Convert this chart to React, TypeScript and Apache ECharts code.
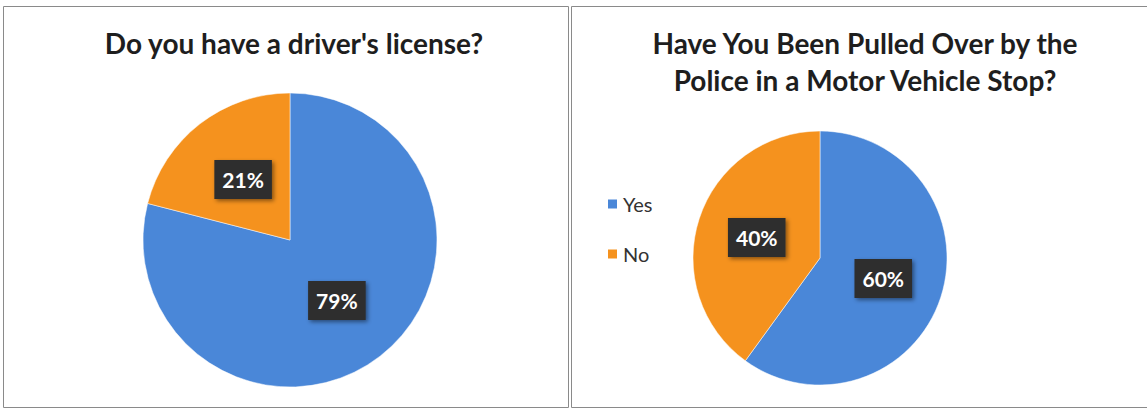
import React, { useEffect, useRef } from "react";
import * as echarts from "echarts";

const categories = ["Yes", "No"];
const licenseValues = [79, 21];
const pulledOverValues = [60, 40];
const titleLeft = "Do you have a driver's license?";
const titleRight = "Have You Been Pulled Over by the\nPolice in a Motor Vehicle Stop?";

const BLUE = "#4a87d8";
const ORANGE = "#f5921e";
const FONT = "Lato, 'Open Sans', sans-serif";

export default function App() {
  const ref = useRef<HTMLDivElement>(null);
  useEffect(() => {
    if (!ref.current) return;
    const chart = echarts.init(ref.current, undefined, { renderer: "svg" });
    const label = {
      show: true,
      position: "inside",
      formatter: "{c}%",
      color: "#fff",
      fontFamily: FONT,
      fontWeight: "bold",
      fontSize: 21,
      backgroundColor: "#2e2e2e",
      padding: [10, 8, 8, 8],
      shadowColor: "rgba(0,0,0,0.45)",
      shadowBlur: 4,
      shadowOffsetX: 2,
      shadowOffsetY: 2,
    };
    const mk = (vals: number[]) =>
      categories.map((c, i) => ({
        name: c,
        value: vals[i],
        itemStyle: { color: i === 0 ? BLUE : ORANGE },
      }));
    const titleStyle = { fontFamily: FONT, fontWeight: "bold", fontSize: 28, color: "#1e1e1e", lineHeight: 37 };
    chart.setOption({
      animation: false,
      backgroundColor: "#fff",
      textStyle: { fontFamily: FONT },
      graphic: [
        { type: "rect", shape: { x: 3.5, y: 6.5, width: 565, height: 401 }, style: { fill: "none", stroke: "#8a8a8a", lineWidth: 1 } },
        { type: "rect", shape: { x: 571.5, y: 6.5, width: 580, height: 401 }, style: { fill: "none", stroke: "#8a8a8a", lineWidth: 1 } },
      ],
      title: [
        { text: titleLeft, left: 294, top: 24, textAlign: "center", padding: 0, textStyle: titleStyle },
        { text: titleRight, left: 865, top: 24, textAlign: "center", padding: 0, textStyle: titleStyle },
      ],
      legend: {
        data: categories,
        orient: "vertical",
        left: 601,
        top: 189,
        itemWidth: 11,
        itemHeight: 11,
        itemGap: 30,
        icon: "rect",
        textStyle: { fontFamily: FONT, fontSize: 20, color: "#333" },
      },
      series: [
        {
          type: "pie",
          center: [290, 240],
          radius: 147,
          startAngle: 90,
          clockwise: true,
          data: mk(licenseValues),
          label,
          labelLine: { show: false },
          itemStyle: { borderColor: "#fff", borderWidth: 0.5 },
          emphasis: { disabled: true },
        },
        {
          type: "pie",
          center: [820, 258],
          radius: 127,
          startAngle: 90,
          clockwise: true,
          data: mk(pulledOverValues),
          label,
          labelLine: { show: false },
          itemStyle: { borderColor: "#fff", borderWidth: 0.5 },
          emphasis: { disabled: true },
        },
      ],
    });
    return () => chart.dispose();
  }, []);
  return <div ref={ref} style={{ width: 1147, height: 412, position: "absolute", left: 0, top: 0 }} />;
}
